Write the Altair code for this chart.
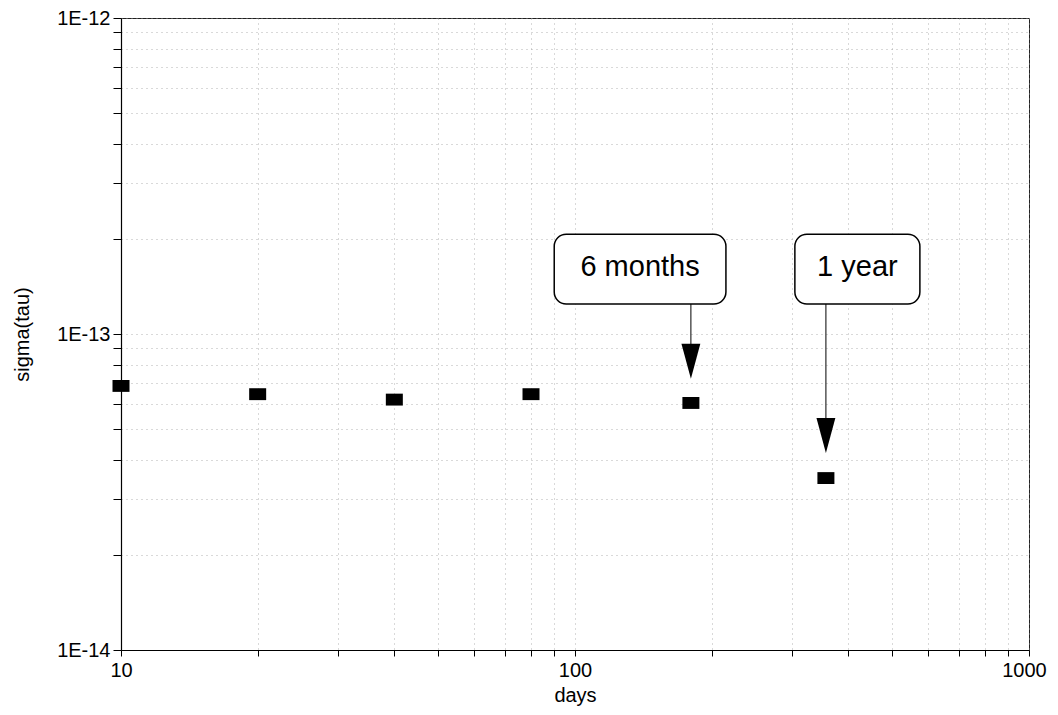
import altair as alt
import pandas as pd

# Data
days = [10, 20, 40, 80, 180, 357]
sigma = [6.85e-14, 6.45e-14, 6.2e-14, 6.45e-14, 6.05e-14, 3.5e-14]

# Annotation callouts
ann_labels = ["6 months", "1 year"]
ann_arrow_x = [180, 357]
ann_box_left = [90, 305]
ann_box_right = [215, 575]
ann_box_top = [2.07e-13, 2.07e-13]
ann_box_bottom = [1.245e-13, 1.245e-13]
ann_head_y = [8.2e-14, 4.77e-14]

x_ticks = [v * 10 ** e for e in (1, 2) for v in range(1, 10)] + [1000]
y_ticks = [v * 10.0 ** e for e in (-14, -13) for v in range(1, 10)] + [1e-12]

FONT = "Liberation Sans"

pts = pd.DataFrame({"x": days, "y": sigma})
ann = pd.DataFrame({
    "label": ann_labels,
    "ax": ann_arrow_x,
    "x1": ann_box_left,
    "x2": ann_box_right,
    "y1": ann_box_top,
    "y2": ann_box_bottom,
    "hy": ann_head_y,
})
ann["tx"] = (ann["x1"] * ann["x2"]) ** 0.5
ann["ty"] = (ann["y1"] * ann["y2"]) ** 0.5

xscale = alt.Scale(type="log", domain=[10, 1000], nice=False)
yscale = alt.Scale(type="log", domain=[1e-14, 1e-12], nice=False)

xaxis = alt.Axis(
    values=x_ticks,
    labelExpr="abs(log(datum.value)/LN10 - round(log(datum.value)/LN10)) < 1e-6 ? format(datum.value, 'd') : ''",
    labelOverlap=False, labelFlush=False,
    labelOffset={"condition": {"test": "datum.value >= 999", "value": -5}, "value": 0},
    title="days", titleX=454, titleY=45, titleBaseline="middle", titleAlign="center",
    tickSize=6, labelPadding=4,
    grid=True, gridDash=[1, 4], gridColor="#999", gridOpacity=0.75,
)
yaxis = alt.Axis(
    values=y_ticks,
    labelExpr="abs(log(datum.value)/LN10 - round(log(datum.value)/LN10)) < 1e-6 ? '1E' + round(log(datum.value)/LN10) : ''",
    labelOverlap=False, labelFlush=False,
    title="sigma(tau)", titleX=-99, titleY=316, titleAngle=270,
    titleBaseline="middle", titleAlign="center",
    tickSize=8, labelPadding=3,
    grid=True, gridDash=[1, 4], gridColor="#999", gridOpacity=0.75,
)

points = alt.Chart(pts).mark_point(
    shape="M-1,-0.7L1,-0.7L1,0.7L-1,0.7Z", size=289, filled=True,
    color="black", opacity=1,
).encode(
    x=alt.X("x:Q", scale=xscale, axis=xaxis),
    y=alt.Y("y:Q", scale=yscale, axis=yaxis),
)

boxes = alt.Chart(ann).mark_rect(
    fill="white", stroke="black", strokeWidth=1.5, cornerRadius=12,
).encode(
    x=alt.X("x1:Q", scale=xscale, axis=xaxis),
    x2="x2:Q",
    y=alt.Y("y1:Q", scale=yscale, axis=yaxis),
    y2="y2:Q",
)

texts = alt.Chart(ann).mark_text(
    font=FONT, fontSize=29, color="black", baseline="middle", align="center", dy=-2,
).encode(
    x=alt.X("tx:Q", scale=xscale, axis=xaxis),
    y=alt.Y("ty:Q", scale=yscale, axis=yaxis),
    text="label:N",
)

shafts = alt.Chart(ann).mark_rule(color="black", strokeWidth=1).encode(
    x=alt.X("ax:Q", scale=xscale, axis=xaxis),
    y=alt.Y("y2:Q", scale=yscale, axis=yaxis),
    y2="hy:Q",
)

heads = alt.Chart(ann).mark_point(
    shape="M-0.54,-1L0.54,-1L0,1Z", size=1225, filled=True, color="black", opacity=1,
).encode(
    x=alt.X("ax:Q", scale=xscale, axis=xaxis),
    y=alt.Y("hy:Q", scale=yscale, axis=yaxis),
)

chart = alt.layer(points, shafts, heads, boxes, texts).properties(
    width=908, height=632,
    background="white",
    autosize=alt.AutoSizeParams(type="none"),
    padding={"left": 113, "top": 10, "right": 21, "bottom": 57},
).configure_view(
    stroke="#222", strokeWidth=1,
).configure_axis(
    labelFont=FONT, titleFont=FONT, labelFontSize=20, titleFontSize=20,
    titleFontWeight="normal", labelColor="black", titleColor="black",
    domainColor="black", tickColor="black", domainWidth=1.2,
)

chart.save("out.html", embed_options={"renderer": "svg", "actions": False})
